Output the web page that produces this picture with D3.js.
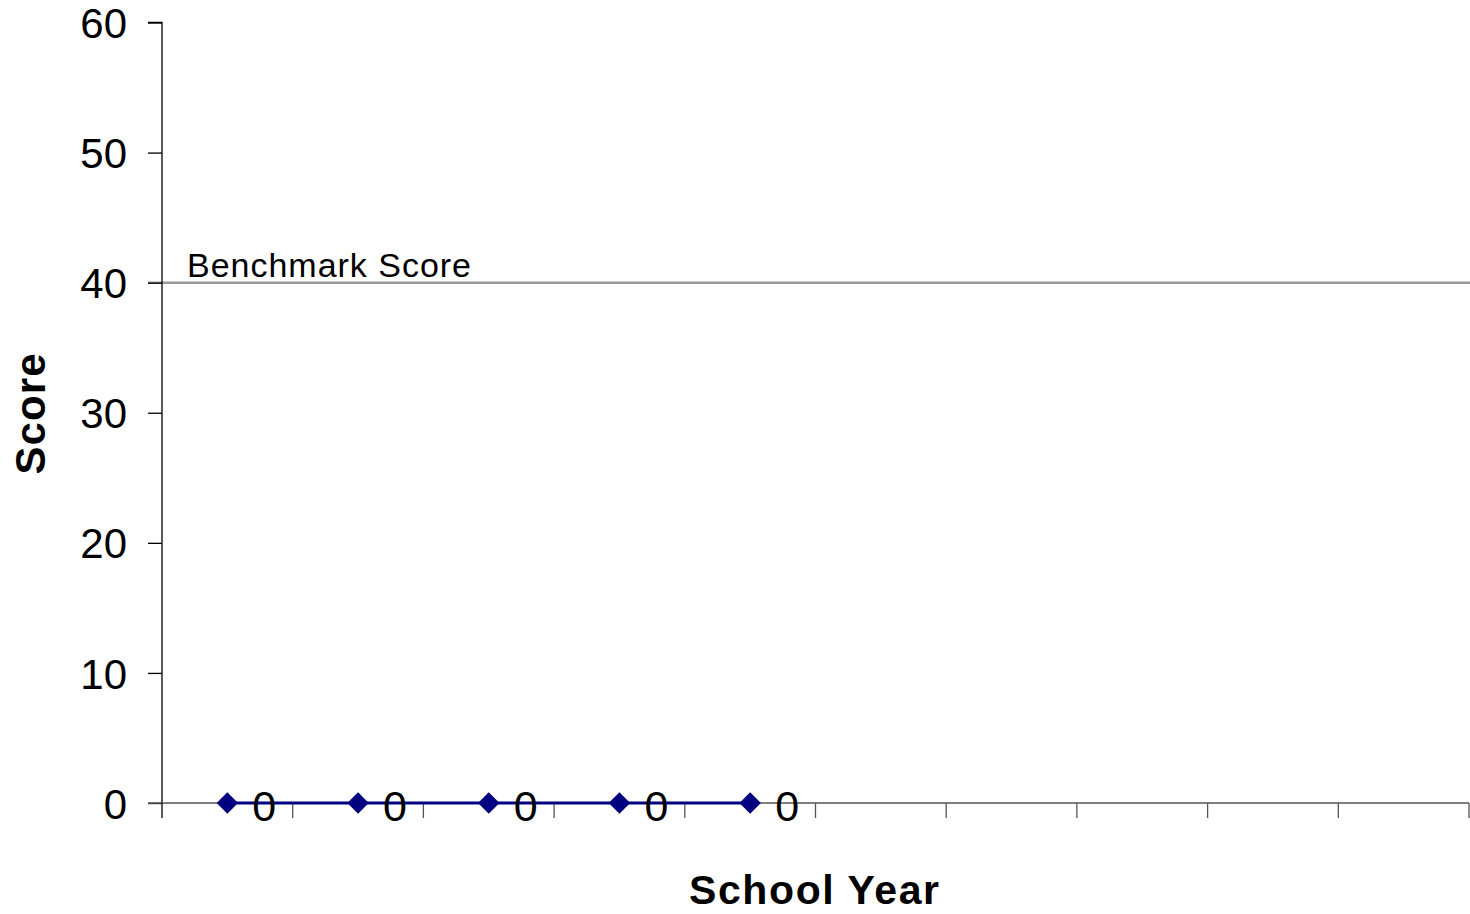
<!DOCTYPE html>
<html><head><meta charset="utf-8">
<script src="https://cdn.jsdelivr.net/npm/d3@7"></script>
<style>html,body{margin:0;padding:0;background:#fff;}svg{display:block;}</style>
</head><body>
<svg id="chart" width="1470" height="914"></svg>
<script>
const categories = ["", "", "", "", "", "", "", "", "", ""];
const scores = [0, 0, 0, 0, 0];
const benchmark = 40;
const benchmarkLabel = "Benchmark Score";
const yTicks = [0, 10, 20, 30, 40, 50, 60];
const xTitle = "School Year";
const yTitle = "Score";

const svg = d3.select("#chart");
const font = "'Liberation Sans', Arial, sans-serif";
const x = d3.scaleBand().domain(d3.range(categories.length)).range([162, 1469]).padding(0);
const y = d3.scaleLinear().domain([0, 60]).range([803, 22.5]);

// benchmark line
svg.append("line").attr("x1", 148).attr("x2", 1470)
  .attr("y1", y(benchmark)).attr("y2", y(benchmark))
  .attr("stroke", "#999").attr("stroke-width", 2.5);
svg.append("text").attr("x", 187).attr("y", y(benchmark) - 6)
  .attr("font-family", font).attr("font-size", 34).attr("fill", "#000")
  .attr("textLength", 284).attr("lengthAdjust", "spacing")
  .text(benchmarkLabel);

// y axis
const yAxis = d3.axisLeft(y).tickValues(yTicks).tickSize(14).tickPadding(21);
const gy = svg.append("g").attr("transform", "translate(162,0)").call(yAxis);
gy.select(".domain").attr("stroke", "#000").attr("stroke-width", 1.3).attr("d", `M-14,${y(60)}H0V${y(0)}`);
gy.selectAll(".tick line").attr("stroke", "#000").attr("stroke-width", 1.3);
gy.selectAll(".tick text").attr("font-family", font).attr("font-size", 42).attr("fill", "#000").attr("dy", "0.36em");

// x axis
const xAxis = d3.axisBottom(x).tickFormat(i => categories[i]).tickSize(0);
const gx = svg.append("g").attr("transform", `translate(0,${y(0)})`).call(xAxis);
gx.select(".domain").attr("stroke", "#555").attr("stroke-width", 1.3).attr("d", `M148,0H1469`);
const bounds = d3.range(categories.length + 1).map(i => i < categories.length ? x(i) : x(categories.length - 1) + x.bandwidth());
gx.selectAll(".xb").data(bounds).enter().append("line")
  .attr("x1", d => d).attr("x2", d => d).attr("y1", 0).attr("y2", 15)
  .attr("stroke", d => d === bounds[0] ? "#000" : "#555").attr("stroke-width", 1.3);

// series
const cx = i => x(i) + x.bandwidth() / 2;
const line = d3.line().x((d, i) => cx(i)).y(d => y(d));
svg.append("path").datum(scores).attr("d", line)
  .attr("fill", "none").attr("stroke", "#000080").attr("stroke-width", 3);
const sym = d3.symbol().type(d3.symbolSquare).size(230);
svg.selectAll(".pt").data(scores).enter().append("path")
  .attr("d", sym()).attr("fill", "#000080")
  .attr("transform", (d, i) => `translate(${cx(i)},${y(d)}) rotate(45)`);
svg.selectAll(".lbl").data(scores).enter().append("text")
  .attr("x", (d, i) => cx(i) + 25).attr("y", d => y(d) + 18)
  .attr("font-family", font).attr("font-size", 43).attr("fill", "#000")
  .text(d => d);

// titles
svg.append("text").attr("x", 814).attr("y", 904).attr("text-anchor", "middle")
  .attr("font-family", font).attr("font-weight", "bold").attr("font-size", 41)
  .attr("textLength", 250).attr("lengthAdjust", "spacing").text(xTitle);
svg.append("text").attr("transform", "translate(45,414) rotate(-90)").attr("text-anchor", "middle")
  .attr("font-family", font).attr("font-weight", "bold").attr("font-size", 42)
  .attr("textLength", 121).attr("lengthAdjust", "spacing").text(yTitle);
</script>
</body></html>
